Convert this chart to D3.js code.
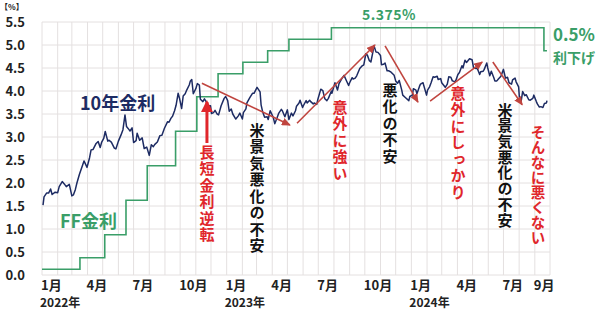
<!DOCTYPE html>
<html>
<head>
<meta charset="utf-8">
<script src="https://cdn.jsdelivr.net/npm/d3@7"></script>
<style>
body{margin:0;background:#fff}
svg text{font-family:"Noto Sans CJK JP","Noto Sans",sans-serif;font-weight:bold}
</style>
</head>
<body>
<div id="chart"></div>
<script>
// FF rate (midpoint of target range), step changes
const ffDates = ["2022-01-01","2022-03-17","2022-05-05","2022-06-16","2022-07-28","2022-09-22","2022-11-03","2022-12-15","2023-02-02","2023-03-23","2023-05-04","2023-07-27","2024-09-19","2024-09-25"];
const ffValues = [0.125,0.375,0.875,1.625,2.375,3.125,3.875,4.375,4.625,4.875,5.125,5.375,4.875,4.875];

// US 10y yield
const tenYear = [
["2022-01-03",1.52],["2022-01-05",1.70],["2022-01-10",1.78],["2022-01-14",1.78],["2022-01-18",1.87],["2022-01-21",1.75],["2022-01-27",1.80],
["2022-02-01",1.79],["2022-02-04",1.92],["2022-02-10",2.03],["2022-02-14",1.98],["2022-02-18",1.92],["2022-02-24",1.97],
["2022-03-01",1.72],["2022-03-04",1.74],["2022-03-08",1.86],["2022-03-11",2.00],["2022-03-16",2.19],["2022-03-22",2.38],["2022-03-25",2.48],["2022-03-31",2.34],
["2022-04-05",2.55],["2022-04-08",2.72],["2022-04-12",2.73],["2022-04-18",2.86],["2022-04-22",2.90],["2022-04-26",2.77],["2022-04-29",2.89],
["2022-05-03",2.97],["2022-05-06",3.12],["2022-05-11",2.91],["2022-05-13",2.93],["2022-05-18",2.89],["2022-05-24",2.76],["2022-05-27",2.74],
["2022-06-01",2.91],["2022-06-06",3.04],["2022-06-10",3.16],["2022-06-14",3.48],["2022-06-17",3.23],["2022-06-22",3.16],["2022-06-24",3.13],["2022-06-28",3.20],
["2022-07-01",2.88],["2022-07-06",2.92],["2022-07-08",3.08],["2022-07-13",2.93],["2022-07-18",2.98],["2022-07-22",2.75],["2022-07-27",2.78],
["2022-08-01",2.60],["2022-08-05",2.83],["2022-08-09",2.79],["2022-08-12",2.84],["2022-08-17",2.89],["2022-08-22",3.03],["2022-08-26",3.04],["2022-08-31",3.19],
["2022-09-06",3.33],["2022-09-09",3.32],["2022-09-13",3.41],["2022-09-16",3.45],["2022-09-20",3.57],["2022-09-23",3.69],["2022-09-27",3.95],["2022-09-30",3.83],
["2022-10-04",3.62],["2022-10-07",3.89],["2022-10-11",3.94],["2022-10-14",4.02],["2022-10-19",4.13],["2022-10-21",4.21],["2022-10-24",4.25],["2022-10-27",3.94],
["2022-11-01",4.05],["2022-11-04",4.16],["2022-11-08",4.13],["2022-11-10",3.82],["2022-11-15",3.77],["2022-11-18",3.83],["2022-11-22",3.76],["2022-11-25",3.68],["2022-11-30",3.68],
["2022-12-02",3.51],["2022-12-06",3.53],["2022-12-09",3.58],["2022-12-13",3.50],["2022-12-16",3.48],["2022-12-21",3.68],["2022-12-27",3.84],["2022-12-30",3.88],
["2023-01-03",3.79],["2023-01-06",3.56],["2023-01-10",3.61],["2023-01-13",3.50],["2023-01-19",3.39],["2023-01-24",3.46],["2023-01-27",3.52],
["2023-02-01",3.39],["2023-02-03",3.53],["2023-02-08",3.61],["2023-02-10",3.74],["2023-02-16",3.86],["2023-02-21",3.95],["2023-02-24",3.95],
["2023-03-02",4.08],["2023-03-08",3.98],["2023-03-10",3.70],["2023-03-13",3.55],["2023-03-17",3.43],["2023-03-22",3.44],["2023-03-24",3.38],["2023-03-28",3.57],
["2023-04-03",3.43],["2023-04-06",3.29],["2023-04-11",3.43],["2023-04-14",3.52],["2023-04-19",3.60],["2023-04-21",3.57],["2023-04-26",3.44],
["2023-05-01",3.59],["2023-05-04",3.38],["2023-05-09",3.52],["2023-05-12",3.46],["2023-05-17",3.57],["2023-05-19",3.67],["2023-05-24",3.74],["2023-05-26",3.80],["2023-05-31",3.64],
["2023-06-02",3.69],["2023-06-07",3.79],["2023-06-09",3.74],["2023-06-14",3.80],["2023-06-16",3.77],["2023-06-21",3.72],["2023-06-23",3.74],["2023-06-28",3.71],["2023-06-30",3.81],
["2023-07-06",4.04],["2023-07-10",4.01],["2023-07-14",3.83],["2023-07-18",3.79],["2023-07-21",3.84],["2023-07-27",4.00],["2023-07-28",3.95],
["2023-08-03",4.18],["2023-08-08",4.02],["2023-08-11",4.16],["2023-08-16",4.26],["2023-08-21",4.34],["2023-08-25",4.24],["2023-08-30",4.12],
["2023-09-01",4.18],["2023-09-06",4.29],["2023-09-08",4.26],["2023-09-12",4.28],["2023-09-15",4.33],["2023-09-21",4.49],["2023-09-25",4.54],["2023-09-29",4.57],
["2023-10-03",4.81],["2023-10-06",4.78],["2023-10-10",4.66],["2023-10-13",4.63],["2023-10-17",4.85],["2023-10-19",4.99],["2023-10-23",4.85],["2023-10-27",4.84],
["2023-11-01",4.77],["2023-11-03",4.57],["2023-11-07",4.58],["2023-11-10",4.61],["2023-11-14",4.44],["2023-11-17",4.44],["2023-11-22",4.41],["2023-11-28",4.34],
["2023-12-01",4.22],["2023-12-05",4.17],["2023-12-08",4.23],["2023-12-13",4.02],["2023-12-15",3.91],["2023-12-20",3.86],["2023-12-27",3.79],["2023-12-29",3.88],
["2024-01-03",3.91],["2024-01-05",4.05],["2024-01-10",4.02],["2024-01-12",3.94],["2024-01-17",4.10],["2024-01-19",4.15],["2024-01-24",4.18],["2024-01-31",3.91],
["2024-02-02",4.02],["2024-02-06",4.09],["2024-02-09",4.18],["2024-02-13",4.31],["2024-02-16",4.30],["2024-02-21",4.32],["2024-02-23",4.25],["2024-02-28",4.27],
["2024-03-01",4.18],["2024-03-06",4.11],["2024-03-08",4.08],["2024-03-12",4.15],["2024-03-15",4.31],["2024-03-19",4.30],["2024-03-22",4.22],["2024-03-28",4.20],
["2024-04-02",4.36],["2024-04-05",4.40],["2024-04-10",4.55],["2024-04-12",4.50],["2024-04-16",4.67],["2024-04-19",4.62],["2024-04-25",4.70],["2024-04-30",4.68],
["2024-05-03",4.50],["2024-05-08",4.49],["2024-05-10",4.50],["2024-05-15",4.36],["2024-05-17",4.42],["2024-05-22",4.43],["2024-05-24",4.47],["2024-05-29",4.61],["2024-05-31",4.50],
["2024-06-04",4.33],["2024-06-07",4.43],["2024-06-12",4.29],["2024-06-14",4.22],["2024-06-18",4.22],["2024-06-21",4.26],["2024-06-26",4.32],
["2024-07-01",4.47],["2024-07-05",4.28],["2024-07-09",4.30],["2024-07-12",4.18],["2024-07-17",4.15],["2024-07-19",4.24],["2024-07-24",4.28],["2024-07-26",4.20],["2024-07-31",4.09],
["2024-08-02",3.79],["2024-08-05",3.78],["2024-08-08",3.99],["2024-08-12",3.90],["2024-08-15",3.92],["2024-08-20",3.81],["2024-08-23",3.80],["2024-08-28",3.84],["2024-08-30",3.91],
["2024-09-04",3.77],["2024-09-06",3.72],["2024-09-10",3.65],["2024-09-13",3.66],["2024-09-17",3.64],["2024-09-20",3.73],["2024-09-24",3.74],["2024-09-25",3.79]
];

// axis ticks
const yTicks = [0,0.5,1,1.5,2,2.5,3,3.5,4,4.5,5,5.5];
const monthTicks = ["2022-01","2022-04","2022-07","2022-10","2023-01","2023-04","2023-07","2023-10","2024-01","2024-04","2024-07","2024-09"];
const yearLabels = ["2022-01","2023-01","2024-01"];

// trend arrows [from date, from value, to date, to value]
const trendArrows = [
  ["2022-11-13",4.17,"2023-05-06",3.26],
  ["2023-05-20",3.30,"2023-10-21",5.00],
  ["2023-11-10",4.98,"2024-01-14",3.76],
  ["2024-02-07",3.78,"2024-05-20",4.63],
  ["2024-06-10",4.63,"2024-08-07",3.70]
];
const inversionArrow = ["2022-11-23",2.87,3.76];

const width = 600, height = 309;
const margin = { t: 22, l: 42, r: 50, b: 34 };
const parse = d3.timeParse("%Y-%m-%d");
const parseM = d3.timeParse("%Y-%m");

const navy = "#1d2b63", green = "#3a9e68", red = "#e0262b", arrowRed = "#c0453f";

const svg = d3.select("#chart").append("svg")
  .attr("width", width)
  .attr("height", height);

const x = d3.scaleTime()
  .domain([parse("2022-01-01"), parse("2024-10-01")])
  .range([margin.l, width - margin.r]);

const y = d3.scaleLinear()
  .domain([0, 5.5])
  .range([height - margin.b, margin.t]);

// grid
const months = d3.timeMonth.range(parse("2022-01-01"), d3.timeDay.offset(parse("2024-10-01"), 1));
svg.append("g")
  .selectAll("line")
  .data(months)
  .enter().append("line")
  .attr("x1", d => x(d)).attr("x2", d => x(d))
  .attr("y1", y(0)).attr("y2", y(5.5))
  .attr("stroke", "#e4e0e0").attr("stroke-width", 1);

svg.append("g")
  .selectAll("line")
  .data(yTicks)
  .enter().append("line")
  .attr("x1", x.range()[0]).attr("x2", x.range()[1])
  .attr("y1", d => y(d)).attr("y2", d => y(d))
  .attr("stroke", "#e4e0e0").attr("stroke-width", 1);

// y labels
svg.append("g")
  .selectAll("text")
  .data(yTicks)
  .enter().append("text")
  .attr("x", 25).attr("y", d => y(d)).attr("dy", "0.36em")
  .attr("text-anchor", "end")
  .attr("font-size", 13).attr("fill", "#222")
  .text(d => d.toFixed(1));

svg.append("text")
  .attr("x", 0).attr("y", 10)
  .attr("font-size", 8).attr("fill", "#222")
  .text("【%】");

// x labels
svg.append("g")
  .selectAll("text")
  .data(monthTicks)
  .enter().append("text")
  .attr("x", d => x(parseM(d)) - 1).attr("y", 290)
  .attr("font-size", 13).attr("fill", "#222")
  .text(d => (+d.slice(5)) + "月");

svg.append("g")
  .selectAll("text")
  .data(yearLabels)
  .enter().append("text")
  .attr("x", d => x(parseM(d)) - 2).attr("y", 307)
  .attr("font-size", 12).attr("fill", "#222")
  .text(d => d.slice(0, 4) + "年");

// FF line
const ffData = ffDates.map((d, i) => ({ date: parse(d), value: ffValues[i] }));
svg.append("path")
  .datum(ffData)
  .attr("fill", "none")
  .attr("stroke", green)
  .attr("stroke-width", 1.6)
  .attr("d", d3.line().curve(d3.curveStepAfter).x(d => x(d.date)).y(d => y(d.value)));

// 10y line
svg.append("path")
  .datum(tenYear)
  .attr("fill", "none")
  .attr("stroke", navy)
  .attr("stroke-width", 1.5)
  .attr("stroke-linejoin", "round")
  .attr("d", d3.line().x(d => x(parse(d[0]))).y(d => y(d[1])));

// arrow markers
const defs = svg.append("defs");
defs.append("marker")
  .attr("id", "head").attr("markerUnits", "userSpaceOnUse")
  .attr("markerWidth", 9).attr("markerHeight", 8)
  .attr("refX", 8).attr("refY", 4).attr("orient", "auto")
  .append("path").attr("d", "M0,0L9,4L0,8Z").attr("fill", arrowRed);
defs.append("marker")
  .attr("id", "bighead").attr("markerUnits", "userSpaceOnUse")
  .attr("markerWidth", 12).attr("markerHeight", 12)
  .attr("refX", 10).attr("refY", 6).attr("orient", "auto")
  .append("path").attr("d", "M0,0L12,6L0,12Z").attr("fill", red);

svg.append("g")
  .selectAll("line")
  .data(trendArrows)
  .enter().append("line")
  .attr("x1", d => x(parse(d[0]))).attr("y1", d => y(d[1]))
  .attr("x2", d => x(parse(d[2]))).attr("y2", d => y(d[3]))
  .attr("stroke", arrowRed).attr("stroke-width", 1.6)
  .attr("marker-end", "url(#head)");

svg.append("line")
  .attr("x1", x(parse(inversionArrow[0]))).attr("x2", x(parse(inversionArrow[0])))
  .attr("y1", y(inversionArrow[1])).attr("y2", y(inversionArrow[2]))
  .attr("stroke", red).attr("stroke-width", 3)
  .attr("marker-end", "url(#bighead)");

// labels
svg.append("text").attr("x", 80).attr("y", 110)
  .attr("font-size", 18).attr("fill", navy).text("10年金利");
svg.append("text").attr("x", 60).attr("y", 228)
  .attr("font-size", 18).attr("fill", green).text("FF金利");
svg.append("text").attr("x", 362).attr("y", 20)
  .attr("font-size", 14).attr("fill", green).attr("letter-spacing", 0.5).text("5.375%");
svg.append("text").attr("x", 553).attr("y", 41)
  .attr("font-size", 17).attr("fill", green).text("0.5%");
svg.append("text").attr("x", 553).attr("y", 63)
  .attr("font-size", 14).attr("fill", green).text("利下げ");

// vertical comments (x = column centre, y = centre of first character)
const notes = [
  { text: "長短金利逆転", x: 207, y: 152, size: 15, step: 16.5, color: red },
  { text: "米景気悪化の不安", x: 257, y: 130, size: 15, step: 16.5, color: "#111" },
  { text: "意外に強い", x: 340, y: 107, size: 15, step: 16.5, color: red },
  { text: "悪化の不安", x: 390, y: 90, size: 15, step: 16.5, color: "#111" },
  { text: "意外にしっかり", x: 458, y: 93, size: 15, step: 16.5, color: red },
  { text: "米景気悪化の不安", x: 505, y: 110, size: 15, step: 15.7, color: "#111" },
  { text: "そんなに悪くない", x: 538, y: 132, size: 14.5, step: 15, color: red }
];

svg.append("g")
  .selectAll("text")
  .data(notes)
  .enter().append("text")
  .style("writing-mode", "vertical-rl")
  .attr("x", d => d.x)
  .attr("y", d => d.y - d.size / 2)
  .attr("font-size", d => d.size)
  .attr("letter-spacing", d => d.step - d.size)
  .attr("fill", d => d.color)
  .text(d => d.text);
</script>
</body>
</html>
